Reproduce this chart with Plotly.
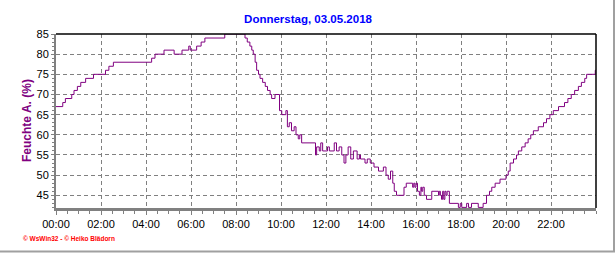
import plotly.graph_objects as go
from datetime import datetime, timedelta

title_text = "Donnerstag, 03.05.2018"
y_label = "Feuchte A. (%)"
footer = "© WsWin32 - © Heiko Blädorn"

hours = [0.00, 0.30, 0.42, 0.70, 0.80, 0.95, 1.10, 1.32, 1.66, 2.20, 2.35, 2.55,
         4.25, 4.40, 4.80, 5.25, 5.60, 5.90, 5.97, 6.25, 6.45, 6.62, 7.50,
         8.40, 8.50, 8.62, 8.70, 8.77, 8.85, 8.92, 9.00, 9.07, 9.19, 9.30, 9.40,
         9.51, 9.58, 9.73, 9.93, 10.03, 10.22, 10.28, 10.37, 10.47, 10.58, 10.67,
         10.77, 10.84, 10.92, 11.54, 11.58, 11.70, 11.76, 11.85, 12.06, 12.15,
         12.37, 12.47, 12.58, 12.70, 12.80, 12.89, 12.99, 13.10, 13.21, 13.39,
         13.48, 13.54, 13.73, 13.84, 13.96, 14.13, 14.33, 14.55, 14.67, 14.77,
         14.87, 14.96, 15.04, 15.14, 15.47, 15.56, 15.85, 15.90, 15.95, 16.00,
         16.07, 16.15, 16.21, 16.25, 16.30, 16.36, 16.47, 16.70, 17.00, 17.04,
         17.08, 17.14, 17.19, 17.24, 17.29, 17.33, 17.39, 17.48, 17.88, 17.96,
         18.03, 18.25, 18.33, 18.47, 18.77, 18.99, 19.14, 19.26, 19.36, 19.51,
         19.73, 20.00, 20.10, 20.18, 20.33, 20.47, 20.55, 20.70, 20.85, 20.99,
         21.10, 21.21, 21.44, 21.66, 21.80, 21.95, 22.10, 22.33, 22.60, 22.75,
         22.90, 23.05, 23.21, 23.35, 23.50, 23.58, 23.96, 24.00]
humidity = [67, 68, 69, 70, 71, 72, 73, 74, 75, 76, 77, 78,
            79, 80, 81, 80, 81, 82, 81, 82, 83, 84, 85,
            84, 83, 82, 81, 80, 78, 76, 75, 74, 73, 72, 71,
            70, 69, 70, 66, 65, 66, 62, 63, 61, 62, 60,
            59, 60, 58, 55, 57, 56, 58, 56, 57, 56,
            58, 56, 57, 55, 53, 55, 57, 54, 56, 54,
            55, 54, 53, 54, 53, 52, 51, 52, 50, 49,
            51, 48, 46, 45, 47, 48, 47, 48, 47, 48,
            46, 45, 47, 46, 47, 45, 44, 46, 45, 46,
            45, 44, 46, 44, 46, 45, 46, 43, 42, 43,
            42, 43, 42, 43, 42, 43, 45, 46, 47, 48,
            49, 50, 51, 53, 54, 55, 56, 57, 58, 59,
            60, 61, 62, 63, 64, 65, 66, 67, 68, 69,
            70, 71, 72, 73, 74, 75, 76, 76]

x_tick_labels = ["00:00", "02:00", "04:00", "06:00", "08:00", "10:00",
                 "12:00", "14:00", "16:00", "18:00", "20:00", "22:00"]
y_ticks = [45, 50, 55, 60, 65, 70, 75, 80, 85]

base = datetime(2018, 5, 3)
times = [base + timedelta(minutes=round(h * 60)) for h in hours]
tick_times = [base + timedelta(hours=2 * i) for i in range(len(x_tick_labels))]

W, H = 616, 253
L, R, T, B = 56, 20, 34, 45
pw, ph = W - L - R, H - T - B

def px_x(px):
    return (px - L) / pw

def px_y(py):
    return (H - B - py) / ph

fig = go.Figure()
fig.add_trace(go.Scatter(x=times, y=humidity, mode="lines",
                         line=dict(color="#800080", width=1, shape="hv"),
                         hoverinfo="skip", showlegend=False))

grid = dict(showgrid=True, gridcolor="#808080", gridwidth=1, griddash="4px,3px")
fig.update_layout(
    width=W, height=H, margin=dict(l=L, r=R, t=T, b=B),
    paper_bgcolor="white", plot_bgcolor="white",
    font=dict(family="Liberation Sans, Arial, sans-serif", size=11, color="black"),
    title=dict(text="<b>" + title_text + "</b>", x=0.5, xref="container", xanchor="center",
               y=1 - 19 / H, yref="container", yanchor="middle",
               font=dict(size=11.5, color="#0000FF")),
    xaxis=dict(range=[base, base + timedelta(hours=24)], tickvals=tick_times,
               ticktext=x_tick_labels, ticks="outside", ticklen=4, tickcolor="#808080",
               showline=True, linecolor="#808080", linewidth=3, zeroline=False,
               minor=dict(dtick=1800000, ticks="outside", ticklen=3, tickcolor="#808080",
                          showgrid=False),
               **grid),
    yaxis=dict(range=[41.85, 85], tickvals=y_ticks, ticks="outside", ticklen=3,
               tickcolor="#808080", showline=True, linecolor="#808080", linewidth=2,
               zeroline=False,
               minor=dict(dtick=1, ticks="outside", ticklen=2, tickcolor="#808080",
                          showgrid=False),
               **grid),
)

# black top/right frame
fig.add_shape(type="line", xref="paper", yref="paper", x0=0, x1=1, y0=1, y1=1,
              line=dict(color="black", width=1.5), layer="above")
fig.add_shape(type="line", xref="paper", yref="paper", x0=1, x1=1, y0=0, y1=1,
              line=dict(color="black", width=1.5), layer="above")
# outer gray border (right and bottom)
fig.add_shape(type="line", xref="paper", yref="paper", x0=px_x(614), x1=px_x(614),
              y0=px_y(0), y1=px_y(252), line=dict(color="#A0A0A0", width=2))
fig.add_shape(type="line", xref="paper", yref="paper", x0=px_x(0), x1=px_x(615),
              y0=px_y(251.5), y1=px_y(251.5), line=dict(color="#A0A0A0", width=2))

fig.add_annotation(text="<b>" + y_label + "</b>", xref="paper", yref="paper",
                   x=px_x(27), y=0.5, textangle=-90, showarrow=False,
                   xanchor="center", yanchor="middle",
                   font=dict(size=12, color="#800080"))
fig.add_annotation(text="<b>" + footer + "</b>", xref="paper", yref="paper",
                   x=px_x(21), y=px_y(238.5), showarrow=False,
                   xanchor="left", yanchor="middle",
                   font=dict(size=6.5, color="#FF0000"))

fig.write_html("out.html")
